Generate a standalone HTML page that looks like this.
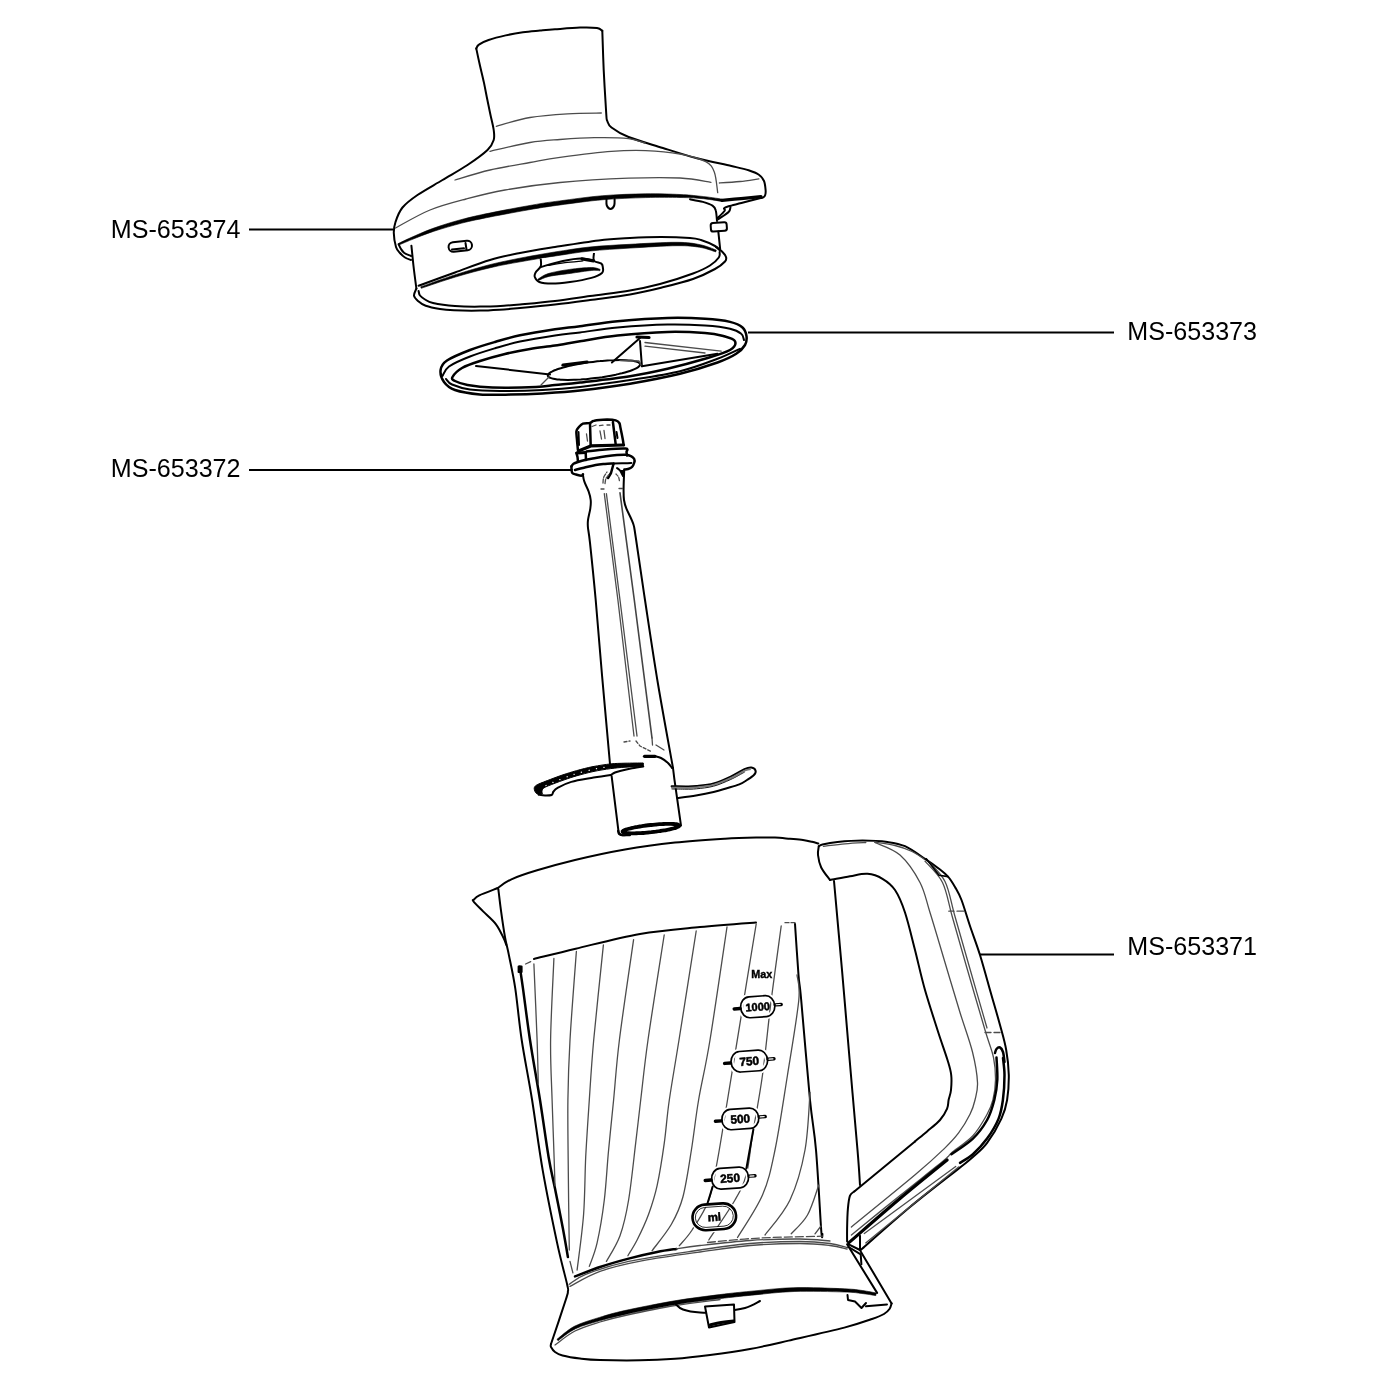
<!DOCTYPE html>
<html><head><meta charset="utf-8">
<style>
html,body{margin:0;padding:0;background:#fff;}
body{width:1400px;height:1400px;overflow:hidden;position:relative;font-family:"Liberation Sans",sans-serif;}
svg{position:absolute;left:0;top:0;will-change:transform;}
.k{fill:none;stroke:#000;stroke-width:2;stroke-linecap:round;stroke-linejoin:round;}
.b{fill:none;stroke:#000;stroke-width:3.2;stroke-linecap:round;stroke-linejoin:round;}
.m{fill:none;stroke:#000;stroke-width:2.5;stroke-linecap:round;stroke-linejoin:round;}
.t{fill:none;stroke:#4c4c4c;stroke-width:1.3;stroke-linecap:round;stroke-linejoin:round;}
.w{fill:#fff;stroke:#000;stroke-width:2;stroke-linejoin:round;}
.ld{stroke:#000;stroke-width:2;fill:none;}
text.lb{font-family:"Liberation Sans",sans-serif;font-size:25.1px;fill:#000;}
text.sm{font-family:"Liberation Sans",sans-serif;font-weight:bold;fill:#000;}
</style></head><body>
<svg width="1400" height="1400" viewBox="0 0 1400 1400">
<rect width="1400" height="1400" fill="#fff"/>
<g id="labels">
<text class="lb" x="110.8" y="237.5">MS-653374</text>
<text class="lb" x="110.8" y="476.8">MS-653372</text>
<text class="lb" x="1127.3" y="340">MS-653373</text>
<text class="lb" x="1127.3" y="955">MS-653371</text>
<path class="ld" d="M249 229.5H393"/>
<path class="ld" d="M249 470H571"/>
<path class="ld" d="M748 332.5H1114"/>
<path class="ld" d="M980 954.5H1114"/>
</g>
<g id="lid">
<path class="k" d="M476.3 48.6C476.7 47.9 476.8 46.0 478.9 44.6C480.9 43.2 484.1 41.5 488.6 40.0C493.1 38.5 500.0 36.7 505.7 35.4C511.4 34.1 517.2 33.1 522.9 32.3C528.6 31.5 534.6 31.1 540.0 30.6C545.4 30.1 548.3 29.8 555.0 29.3C561.7 28.8 573.0 27.8 580.0 27.6C587.0 27.4 593.3 27.5 597.0 28.0C600.7 28.5 601.4 30.3 602.3 30.8"/>
<path class="k" d="M602.3 30.8C602.5 37.3 603.1 56.3 603.7 70.0C604.4 83.7 605.6 104.5 606.2 113.0C606.8 121.5 606.4 118.6 607.3 121.0C608.2 123.4 608.0 124.8 611.5 127.5C615.0 130.2 620.0 133.6 628.6 137.0C637.2 140.4 651.5 144.4 662.9 148.0C674.3 151.6 685.6 155.3 697.0 158.3C708.4 161.3 722.8 164.0 731.4 166.0C740.0 168.0 744.0 168.8 748.6 170.3C753.2 171.8 756.3 173.0 758.9 174.8C761.5 176.6 762.9 178.5 764.0 181.0C765.1 183.5 765.4 187.7 765.6 190.0C765.8 192.3 765.6 193.8 765.2 195.0C764.9 196.2 764.2 196.8 763.5 197.3C762.8 197.8 761.2 197.9 760.7 198.0"/>
<path class="k" d="M476.3 48.6C476.9 51.5 478.7 60.0 480.0 65.7C481.3 71.4 482.8 77.2 484.0 82.9C485.2 88.6 486.3 94.7 487.4 100.0C488.5 105.3 489.4 110.0 490.5 115.0C491.6 120.0 493.2 125.8 493.7 130.0C494.2 134.2 494.7 136.7 493.7 140.0C492.7 143.3 491.9 145.8 487.5 150.0C483.1 154.2 475.0 160.0 467.5 165.0C460.0 170.0 450.8 175.0 442.5 180.0C434.2 185.0 424.2 190.4 417.5 195.0C410.8 199.6 406.2 203.0 402.5 207.5C398.8 212.0 396.9 217.8 395.5 222.0C394.1 226.2 393.7 228.8 393.8 233.0C393.9 237.2 395.0 243.7 396.0 247.0C397.0 250.3 398.5 251.2 400.0 253.0C401.5 254.8 403.2 256.3 405.0 257.5C406.8 258.7 410.0 259.6 411.0 260.0"/>
<path class="k" d="M398.6 244.3C399.0 245.1 400.1 247.6 401.0 249.0C401.9 250.4 402.6 251.8 404.3 253.0C406.0 254.2 409.9 255.5 411.0 256.0"/>
<path d="M398.9 245.0C401.1 244.1 406.1 241.9 411.8 239.6C417.6 237.3 425.0 234.2 433.4 231.4C441.7 228.7 452.4 225.6 461.9 223.1C471.4 220.7 478.5 219.3 490.4 216.9C502.3 214.6 521.6 211.0 533.2 209.0C544.9 207.0 548.6 206.5 560.3 204.9C571.9 203.4 588.8 200.9 603.1 199.7C617.3 198.5 632.9 198.0 645.7 197.6C658.6 197.2 670.9 197.4 680.0 197.5C689.0 197.6 694.5 198.0 699.9 198.4C705.3 198.8 708.7 199.4 712.4 199.9C716.0 200.4 720.3 201.2 721.9 201.5L722.3 199.1C720.7 198.9 716.3 198.2 712.6 197.7C709.0 197.2 705.5 196.7 700.1 196.2C694.7 195.6 689.1 194.9 680.0 194.5C671.0 194.1 658.5 193.6 645.7 193.8C632.8 194.0 617.1 194.5 602.7 195.7C588.4 196.9 571.4 199.3 559.7 200.9C548.0 202.4 544.2 202.9 532.6 205.0C520.9 207.0 501.5 210.6 489.6 213.1C477.7 215.5 470.5 217.1 460.9 219.7C451.4 222.2 440.7 225.6 432.4 228.6C424.1 231.6 416.7 235.1 411.0 237.6C405.3 240.1 400.4 242.6 398.3 243.6Z" fill="#000" stroke="#000" stroke-width="0.6" stroke-linejoin="round"/>
<path class="b" d="M722.1 200.3C725.2 200.0 734.5 199.2 741.0 198.6C747.5 198.0 757.7 197.0 761.0 196.7" style="stroke-width:3.3"/>
<path class="t" d="M496.3 126.3C501.9 124.8 518.1 119.6 530.0 117.5C541.9 115.4 555.6 114.5 567.5 113.8C579.4 113.0 595.7 113.1 601.3 113.0"/>
<path class="t" d="M490.0 151.3C496.7 149.8 518.3 144.5 530.0 142.5C541.7 140.5 549.3 140.3 560.0 139.5C570.7 138.7 582.9 137.8 594.3 137.7C605.7 137.5 620.1 137.7 628.6 138.6C637.1 139.5 642.3 142.3 645.0 143.0"/>
<path class="t" d="M455.0 180.0C460.8 178.3 477.5 172.9 490.0 170.0C502.5 167.1 518.3 164.6 530.0 162.5C541.7 160.4 546.4 159.2 560.0 157.4C573.6 155.6 597.1 152.5 611.4 151.4C625.7 150.3 634.3 150.2 645.7 150.6C657.1 151.0 670.0 152.2 680.0 154.0C690.0 155.8 700.0 158.7 705.7 161.7C711.4 164.7 712.3 166.8 714.3 172.0C716.3 177.2 717.1 189.2 717.7 192.6"/>
<path class="t" d="M395.5 228.0C401.2 225.0 418.2 214.8 430.0 210.0C441.8 205.2 453.5 202.3 466.0 199.0C478.5 195.7 489.3 192.8 505.0 190.0C520.7 187.2 539.4 184.5 560.0 182.5C580.6 180.5 608.6 178.9 628.6 178.2C648.6 177.4 666.3 177.3 680.0 178.0C693.7 178.7 705.8 181.6 710.9 182.3"/>
<path class="t" d="M719.4 183.0C722.8 182.8 733.4 182.2 740.0 181.5C746.6 180.8 755.8 179.3 758.9 178.9"/>
<path class="k" d="M411.4 245.7C411.8 249.1 412.7 258.9 413.5 266.0C414.3 273.1 415.9 284.8 416.4 288.6"/>
<path class="k" d="M690.0 199.3C692.1 199.7 699.1 200.8 702.9 201.9C706.6 203.0 710.4 204.3 712.5 205.7C714.6 207.1 715.0 207.6 715.7 210.2C716.5 212.8 716.8 219.2 717.0 221.0"/>
<path class="k" d="M718.3 231.4L720.2 249.4"/>
<path class="k" d="M418.6 285.7C424.7 283.5 443.1 276.8 455.0 272.5C466.9 268.2 479.2 263.2 490.0 260.0C500.8 256.8 509.2 255.2 520.0 253.0C530.8 250.8 541.9 249.1 555.0 247.0C568.1 244.9 586.1 241.9 598.6 240.4C611.1 238.9 619.6 238.6 630.0 238.0C640.4 237.4 651.0 237.0 661.0 237.0C671.0 237.0 683.3 237.5 690.0 238.0C696.7 238.5 696.8 238.7 701.0 240.0C705.2 241.3 711.9 244.3 715.0 246.0C718.1 247.7 718.8 249.3 719.6 250.0"/>
<path d="M421.3 288.3C426.9 286.4 443.8 280.5 455.3 277.1C466.8 273.6 479.5 270.2 490.4 267.7C501.2 265.1 509.5 263.7 520.3 261.8C531.2 259.8 543.7 257.8 555.3 256.0C567.0 254.2 577.7 252.3 590.2 251.0C602.7 249.7 615.6 249.0 630.1 248.1C644.6 247.2 665.4 245.8 677.0 245.7C688.6 245.6 693.3 246.3 699.8 247.3C706.2 248.3 713.1 251.1 715.7 251.9L716.3 250.1C713.6 249.2 706.8 246.0 700.2 244.7C693.7 243.4 688.7 242.4 677.0 242.3C665.3 242.2 644.4 243.5 629.9 244.3C615.4 245.1 602.3 245.7 589.8 247.0C577.3 248.3 566.4 250.2 554.7 252.0C543.0 253.9 530.5 256.1 519.7 258.2C508.8 260.4 500.5 262.0 489.6 264.7C478.8 267.5 466.2 271.3 454.7 274.9C443.2 278.6 426.4 284.8 420.7 286.7Z" fill="#000" stroke="#000" stroke-width="0.6" stroke-linejoin="round"/>
<path class="k" d="M416.4 288.6C416.0 289.8 413.7 293.6 414.0 295.7C414.3 297.8 416.1 299.3 418.0 301.0C419.9 302.7 422.0 304.4 425.7 305.7C429.4 307.0 435.3 308.2 440.0 309.0C444.7 309.8 447.3 310.0 454.0 310.3C460.7 310.6 471.7 310.8 480.0 310.6C488.3 310.5 497.3 309.8 504.0 309.4C510.7 309.0 511.5 308.8 520.0 308.0C528.5 307.2 543.3 305.8 555.0 304.5C566.7 303.2 577.5 301.7 590.0 300.0C602.5 298.3 618.3 296.5 630.0 294.5C641.7 292.5 649.5 290.6 660.0 288.0C670.5 285.4 683.8 282.2 693.0 279.0C702.2 275.8 709.7 271.9 715.0 269.0C720.3 266.1 723.2 263.5 725.0 261.5C726.8 259.5 726.5 258.7 726.0 257.0C725.5 255.3 723.7 253.2 722.0 251.5C720.3 249.8 717.0 247.8 716.0 247.0"/>
<path class="k" d="M418.6 291.0C418.8 291.8 418.9 294.1 420.0 295.5C421.1 296.9 422.8 298.2 425.0 299.5C427.2 300.8 428.0 301.9 433.0 303.0C438.0 304.1 447.2 305.4 455.0 306.0C462.8 306.6 471.8 306.7 480.0 306.6C488.2 306.6 497.3 306.1 504.0 305.7C510.7 305.3 511.5 305.3 520.0 304.5C528.5 303.7 543.3 302.4 555.0 301.0C566.7 299.6 577.5 297.8 590.0 296.0C602.5 294.2 618.3 292.5 630.0 290.5C641.7 288.5 649.5 286.8 660.0 284.0C670.5 281.2 684.7 276.6 693.0 273.5C701.3 270.4 705.7 268.2 710.0 265.5C714.3 262.8 717.2 259.8 718.8 257.5C720.4 255.2 719.5 252.9 719.6 252.0"/>
<rect class="k" x="448.5" y="241.5" width="23.5" height="9.5" rx="4.7" transform="rotate(-6 460 246)"/>
<path class="k" d="M452.0 249.6L464.0 248.3"/>
<path class="k" d="M465.5 243.0L466.5 249.5"/>
<path class="w" d="M540.7 258.6C540.7 259.9 541.6 264.1 540.7 266.4C539.9 268.7 536.6 270.7 535.6 272.5C534.6 274.3 534.2 275.4 534.8 277.0C535.4 278.6 536.4 280.9 539.3 282.0C542.2 283.1 546.9 283.6 552.0 283.6C557.1 283.6 563.4 282.9 570.0 282.0C576.6 281.1 586.1 279.4 591.4 277.9C596.7 276.4 600.1 274.6 602.0 272.9C603.9 271.2 603.0 269.4 602.9 267.9C602.8 266.3 602.9 264.8 601.4 263.6C599.9 262.4 595.2 262.5 594.0 260.7C592.8 258.9 594.0 254.2 594.0 252.9"/>
<path class="k" d="M540.7 267.0C544.4 266.0 556.2 262.3 562.9 260.9C569.6 259.5 575.5 258.4 580.7 258.4C585.9 258.4 591.8 260.3 594.0 260.7"/>
<path class="k" d="M548.6 265.4C551.3 264.9 559.3 263.4 565.0 262.6C570.7 261.9 579.9 261.2 582.9 260.9" style="stroke-width:1.3"/>
<path d="M538.2 280.6C540.0 279.9 543.6 277.7 549.0 276.4C554.3 275.2 563.2 274.4 570.3 273.4C577.4 272.4 586.5 270.9 591.5 270.5C596.4 270.1 598.5 270.7 599.9 270.7L600.1 269.3C598.6 269.0 596.4 267.5 591.3 267.5C586.3 267.5 576.9 268.4 569.7 269.4C562.5 270.4 553.6 271.9 548.2 273.6C542.9 275.2 539.4 278.4 537.6 279.4Z" fill="#000" stroke="#000" stroke-width="0.6" stroke-linejoin="round"/>
<path class="b" d="M582.0 258.9L593.5 260.8"/>
<path class="k" d="M606.5 199.5C606.5 200.5 606.1 203.9 606.8 205.5C607.5 207.1 609.3 208.9 610.5 208.9C611.7 208.9 613.5 207.2 614.2 205.5C614.9 203.8 614.5 200.1 614.6 199.0"/>
<rect class="k" x="710.8" y="222.6" width="16" height="8.6" rx="2.4" transform="rotate(-4 719 227)"/>
<path class="k" d="M760.7 198.0C757.5 198.8 746.8 201.6 741.4 203.0C736.0 204.4 731.5 205.4 728.6 206.3C725.7 207.2 724.6 207.6 724.0 208.3C723.4 209.1 725.8 209.2 724.7 210.8C723.6 212.4 718.8 216.8 717.6 218.0"/>
<path class="k" d="M730.5 207.0C730.2 207.8 730.6 210.0 728.6 212.0C726.6 214.0 720.0 218.0 718.3 219.2"/>
</g>
<g id="disc">
<path class="m" d="M440.6 370.0C441.1 366.4 442.1 363.8 447.0 360.5C451.9 357.2 462.0 353.1 470.0 350.0C478.0 346.9 486.7 344.4 495.0 342.0C503.3 339.6 510.0 337.4 520.0 335.3C530.0 333.2 545.0 330.8 555.0 329.3C565.0 327.8 569.6 327.6 580.0 326.2C590.4 324.9 602.9 322.6 617.5 321.2C632.1 319.9 652.9 318.4 667.5 318.0C682.1 317.6 694.6 318.1 705.0 318.8C715.4 319.4 723.8 320.4 730.0 321.9C736.2 323.4 739.8 325.1 742.5 327.5C745.2 329.9 746.1 333.3 746.5 336.2C746.9 339.2 746.7 342.1 745.0 345.0C743.3 347.9 740.8 350.8 736.2 353.8C731.7 356.7 726.9 359.2 717.5 362.5C708.1 365.8 694.6 370.2 680.0 373.8C665.4 377.3 646.7 380.9 630.0 383.8C613.3 386.6 594.6 389.0 580.0 390.6C565.4 392.2 554.2 392.8 542.5 393.5C530.8 394.2 520.4 394.5 510.0 394.6C499.6 394.8 489.2 395.2 480.0 394.4C470.8 393.6 461.0 392.1 455.0 390.0C449.0 387.9 446.4 385.3 444.0 382.0C441.6 378.7 440.1 373.6 440.6 370.0Z"/>
<path class="k" d="M442.5 376.0C443.6 374.4 444.4 369.8 449.0 366.5C453.6 363.2 462.3 359.5 470.0 356.5C477.7 353.5 486.7 350.8 495.0 348.3C503.3 345.8 510.0 343.6 520.0 341.5C530.0 339.4 545.0 337.0 555.0 335.5C565.0 334.0 569.6 333.7 580.0 332.4C590.4 331.1 602.9 328.9 617.5 327.6C632.1 326.3 652.9 324.9 667.5 324.6C682.1 324.3 694.6 324.9 705.0 325.6C715.4 326.3 724.0 327.4 730.0 328.8C736.0 330.1 738.9 331.9 741.2 333.8C743.6 335.6 743.5 339.0 744.0 340.0"/>
<path class="m" d="M452.5 377.0C453.7 374.8 457.4 370.7 462.0 368.0C466.6 365.3 472.8 363.3 480.0 361.0C487.2 358.7 496.7 356.0 505.0 354.0C513.3 352.0 521.7 350.4 530.0 349.0C538.3 347.6 546.7 346.8 555.0 345.5C563.3 344.2 569.6 342.9 580.0 341.2C590.4 339.6 602.9 337.2 617.5 335.6C632.1 334.0 652.9 332.3 667.5 331.9C682.1 331.5 695.6 332.3 705.0 333.0C714.4 333.7 718.8 334.9 723.8 336.2C728.8 337.6 734.0 339.0 735.0 341.2C736.0 343.5 735.0 347.1 730.0 350.0C725.0 352.9 715.4 355.6 705.0 358.8C694.6 361.9 680.0 365.8 667.5 368.8C655.0 371.7 644.6 374.0 630.0 376.2C615.4 378.5 592.5 381.0 580.0 382.5C567.5 384.0 562.3 384.2 555.0 385.0C547.7 385.8 546.4 386.6 536.0 387.0C525.6 387.4 503.9 387.8 492.5 387.5C481.1 387.2 473.8 386.1 467.5 385.0C461.2 383.9 457.5 382.3 455.0 381.0C452.5 379.7 451.3 379.2 452.5 377.0Z"/>
<path class="k" d="M740.0 348.8C736.2 350.4 727.5 355.0 717.5 358.8C707.5 362.5 694.6 367.7 680.0 371.2C665.4 374.8 646.7 377.4 630.0 380.0C613.3 382.6 594.6 385.2 580.0 386.9C565.4 388.6 555.8 389.3 542.5 390.0C529.2 390.7 512.1 391.1 500.0 391.0C487.9 390.9 478.0 390.6 470.0 389.5C462.0 388.4 456.0 386.2 452.0 384.5C448.0 382.8 447.0 379.9 446.0 379.0"/>
<path class="k" d="M476.0 366.0L550.0 374.4"/>
<path class="k" d="M640.0 338.0L611.9 362.5"/>
<path class="k" d="M640.0 341.0L641.9 366.2"/>
<path class="t" d="M645.0 342.5L721.2 351.2"/>
<path class="t" d="M645.0 346.2L705.0 353.0"/>
<path class="k" d="M641.9 366.2L717.5 353.8"/>
<path class="b" d="M637.0 337.0L649.0 337.5"/>
<path class="k" d="M640.2 364.3C640.1 364.6 640.1 365.2 639.7 365.7C639.4 366.1 638.9 366.6 638.2 367.1C637.5 367.6 636.6 368.1 635.6 368.6C634.5 369.2 633.3 369.7 631.9 370.2C630.6 370.7 629.0 371.2 627.3 371.7C625.7 372.3 623.9 372.8 621.9 373.3C620.0 373.7 618.0 374.2 615.8 374.7C613.7 375.1 611.5 375.6 609.2 376.0C606.9 376.4 604.6 376.8 602.2 377.2C599.8 377.5 597.4 377.8 595.0 378.1C592.6 378.4 590.2 378.7 587.8 378.9C585.4 379.2 583.0 379.3 580.7 379.5C578.4 379.6 576.1 379.8 573.9 379.8C571.8 379.9 569.7 379.9 567.7 379.9C565.7 379.9 563.8 379.9 562.1 379.8C560.3 379.7 558.7 379.5 557.2 379.4C555.8 379.2 554.5 379.0 553.3 378.7C552.2 378.5 551.2 378.2 550.4 377.9C549.6 377.6 549.0 377.2 548.6 376.9C548.1 376.5 547.9 376.1 547.8 375.7C547.8 375.2 547.9 374.8 548.3 374.3C548.6 373.9 549.1 373.4 549.8 372.9C550.5 372.4 551.4 371.9 552.4 371.4C553.5 370.8 554.7 370.3 556.1 369.8C557.4 369.3 559.0 368.8 560.7 368.3C562.3 367.7 564.1 367.2 566.1 366.7C568.0 366.3 570.0 365.8 572.2 365.3C574.3 364.9 576.5 364.4 578.8 364.0C581.1 363.6 583.4 363.2 585.8 362.8C588.2 362.5 590.6 362.2 593.0 361.9C595.4 361.6 597.8 361.3 600.2 361.1C602.6 360.8 605.0 360.7 607.3 360.5C609.6 360.4 611.9 360.2 614.1 360.2C616.2 360.1 618.3 360.1 620.3 360.1C622.3 360.1 624.2 360.1 625.9 360.2C627.7 360.3 629.3 360.5 630.8 360.6C632.2 360.8 633.5 361.0 634.7 361.3C635.8 361.5 636.8 361.8 637.6 362.1C638.4 362.4 639.0 362.8 639.4 363.1C639.9 363.5 640.0 364.1 640.2 364.3C640.3 364.5 640.2 364.1 640.2 364.3Z"/>
<path class="b" d="M563.0 365.0L587.0 362.0"/>
<path class="t" d="M620.0 360.5L639.0 361.0L641.0 365.0"/>
<path class="t" d="M541.0 385.0L549.0 377.0"/>
</g>
<g id="shaft">
<path class="m" d="M577.9 450.0C577.8 448.3 577.2 443.1 577.0 440.0C576.8 436.9 576.1 433.6 576.4 431.4C576.7 429.2 577.9 428.3 579.0 427.0C580.1 425.7 581.1 424.3 582.9 423.6C584.7 422.9 588.1 423.4 590.0 422.9C591.9 422.4 591.4 421.2 594.3 420.7C597.1 420.1 603.5 419.7 607.1 419.6C610.7 419.6 613.7 419.8 615.7 420.4C617.7 421.0 618.5 421.7 619.3 423.0C620.1 424.3 619.9 425.2 620.5 428.0C621.1 430.8 622.4 437.2 622.9 440.0C623.4 442.8 623.5 444.2 623.6 445.0"/>
<path class="m" d="M590.0 423.6L590.7 445.7"/>
<path class="m" d="M612.9 422.0L615.7 444.3"/>
<path class="b" d="M578.5 451.0L590.7 445.9L623.6 445.0"/>
<path class="t" d="M600.0 431.0L601.5 439.0"/>
<path class="t" d="M604.0 430.5L605.0 438.5"/>
<path class="t" d="M586.5 434.0L587.5 441.0"/>
<path class="t" d="M592.0 426.5L596.0 425.0"/>
<path class="t" d="M599.5 425.6L603.0 425.2"/>
<path class="t" d="M607.0 425.0L610.0 425.0"/>
<path class="k" d="M616.5 432.0L617.5 438.0"/>
<path class="k" d="M578.5 432.0L579.0 445.0"/>
<path class="m" d="M576.4 452.9C576.6 453.6 577.2 455.6 577.5 457.0C577.8 458.4 577.8 460.8 577.9 461.5"/>
<path class="m" d="M585.7 452.9L586.0 460.0"/>
<path class="b" d="M577.0 453.0L585.5 452.5"/>
<path class="m" d="M586.4 451.4C589.5 451.1 598.5 450.0 605.0 449.5C611.5 449.0 622.1 448.2 625.7 448.6C629.3 449.0 626.3 450.9 626.5 452.0C626.7 453.1 626.9 454.9 627.0 455.5"/>
<path class="m" d="M571.4 466.4C571.8 466.0 572.4 464.5 573.5 463.8C574.6 463.1 575.8 462.7 577.9 462.0C580.0 461.3 583.0 460.4 586.0 459.7C589.0 459.0 592.4 458.5 595.7 457.9C599.0 457.3 602.5 456.7 606.0 456.2C609.5 455.7 613.7 455.2 617.0 455.0C620.3 454.8 623.6 454.6 626.0 454.8C628.4 455.0 630.0 455.7 631.4 456.4C632.8 457.1 633.7 458.0 634.2 459.0C634.7 460.0 634.7 461.2 634.3 462.5C633.9 463.8 633.0 465.9 632.0 467.0C631.0 468.1 629.3 468.6 628.0 469.0C626.7 469.4 624.9 469.4 624.3 469.5"/>
<path class="m" d="M571.4 466.4C571.4 467.0 571.5 468.9 571.6 470.0C571.8 471.1 571.6 472.2 572.3 473.0C573.0 473.8 574.5 474.1 576.0 474.5C577.5 474.9 580.2 475.7 581.4 475.7C582.6 475.7 582.7 474.5 583.0 474.3"/>
<path class="m" d="M575.0 470.0C576.5 469.6 580.5 468.5 584.0 467.7C587.5 466.9 592.2 465.6 595.7 465.0C599.2 464.4 602.0 464.2 605.0 463.9C608.0 463.6 612.2 463.5 613.6 463.4"/>
<path class="k" d="M613.6 463.4C615.0 463.4 619.0 463.4 622.0 463.3C625.0 463.2 629.8 463.0 631.4 462.9"/>
<path class="m" d="M613.5 464.0L611.0 473.0L608.0 478.0"/>
<path class="k" d="M617.0 468.0C617.5 468.4 619.0 469.2 620.0 470.5C621.0 471.8 622.5 475.1 623.0 476.0"/>
<path d="M620 470L624.3 470L624 478Z" fill="#000"/>
<path class="k" d="M582.9 474.5C583.1 475.6 583.3 478.6 584.3 481.4C585.2 484.2 587.5 488.3 588.6 491.4C589.7 494.5 590.4 497.1 590.7 500.0C591.0 502.9 590.8 505.3 590.3 508.6C589.8 511.9 588.4 516.9 588.0 520.0C587.6 523.1 587.6 523.2 587.9 527.0C588.2 530.8 588.7 530.7 590.0 542.9C591.3 555.1 593.7 578.0 595.7 600.0C597.7 622.0 599.6 647.7 602.0 675.0C604.4 702.3 608.7 749.2 610.0 764.0"/>
<path class="k" d="M624.2 470.7C624.1 473.7 623.6 483.7 623.6 488.6C623.6 493.5 623.5 496.7 624.0 500.0C624.5 503.3 624.9 504.8 626.4 508.6C627.9 512.4 631.3 518.2 632.9 522.9C634.5 527.6 633.7 524.1 635.7 537.0C637.7 549.9 641.3 575.5 645.0 600.0C648.7 624.5 653.3 656.0 658.0 684.0C662.7 712.0 670.5 754.0 673.0 768.0"/>
<path class="k" d="M611.6 775.9L618.4 830.7"/>
<path class="k" d="M618.0 831.0C618.2 831.5 618.3 833.3 619.0 834.0C619.7 834.7 620.5 835.1 622.0 835.3C623.5 835.5 627.0 835.0 628.0 835.0"/>
<path class="k" d="M673.0 768.0L674.4 779.3L681.0 825.6"/>
<path class="t" d="M604.3 493.6L617.9 600.0L634.0 736.0"/>
<path class="t" d="M606.4 493.6L620.0 600.0L637.0 736.0"/>
<path class="t" d="M620.0 492.9L634.3 600.0L652.0 738.0" style="stroke-width:1.6;stroke:#444"/>
<path class="t" d="M603.0 483.0C603.1 482.0 603.1 478.8 603.8 477.0C604.5 475.2 606.5 472.8 607.0 472.0" stroke-dasharray="4 1.5"/>
<path class="t" d="M605.0 483.5C605.2 482.7 605.3 480.0 606.0 478.5C606.7 477.0 608.5 475.2 609.0 474.5" stroke-dasharray="4 1.5"/>
<path class="t" d="M616.0 474.0C616.4 474.5 617.9 475.8 618.5 477.0C619.1 478.2 619.3 480.3 619.5 481.0" stroke-dasharray="3 1.5"/>
<path class="t" d="M601.0 489.0L604.0 489.0"/>
<path class="t" d="M619.0 488.5L622.5 488.5"/>
<path class="b" d="M644.5 756.3L655.0 756.3"/>
<path class="k" d="M655.0 756.3C656.0 756.6 658.8 756.9 661.0 758.0C663.2 759.1 666.2 761.3 668.0 763.0C669.8 764.7 671.3 767.2 672.0 768.0"/>
<path class="t" d="M624.0 742.0L630.0 741.0" stroke-dasharray="3 2"/>
<path class="t" d="M636.0 741.0L640.0 746.0L646.0 749.0L652.0 752.0" stroke-dasharray="3 2"/>
<path class="t" d="M656.0 745.0L664.0 750.0"/>
<path class="t" d="M652.0 738.0L652.5 745.0"/>
<path class="k" d="M618.4 830.7C618.6 831.2 618.8 832.8 619.5 833.5C620.2 834.2 621.0 834.9 622.7 835.2C624.5 835.5 628.8 835.3 630.0 835.3"/>
<path class="b" d="M679.4 825.5C679.4 825.6 679.4 825.9 679.1 826.1C678.9 826.3 678.6 826.5 678.2 826.8C677.7 827.0 677.2 827.2 676.5 827.5C675.9 827.7 675.1 828.0 674.2 828.2C673.4 828.5 672.4 828.7 671.4 828.9C670.3 829.2 669.2 829.4 668.0 829.7C666.8 829.9 665.6 830.2 664.3 830.4C662.9 830.6 661.6 830.8 660.2 831.0C658.8 831.3 657.3 831.5 655.8 831.7C654.4 831.8 652.9 832.0 651.4 832.2C649.9 832.3 648.4 832.5 646.9 832.6C645.5 832.7 644.0 832.9 642.6 833.0C641.2 833.1 639.8 833.1 638.4 833.2C637.1 833.2 635.8 833.3 634.6 833.3C633.4 833.3 632.2 833.3 631.2 833.3C630.1 833.3 629.1 833.3 628.2 833.2C627.3 833.1 626.5 833.1 625.8 833.0C625.2 832.9 624.6 832.8 624.1 832.6C623.6 832.5 623.2 832.4 623.0 832.2C622.7 832.1 622.6 831.9 622.6 831.7C622.5 831.5 622.6 831.3 622.9 831.1C623.1 830.9 623.4 830.7 623.8 830.4C624.3 830.2 624.8 830.0 625.5 829.7C626.1 829.5 626.9 829.2 627.8 829.0C628.6 828.7 629.6 828.5 630.6 828.3C631.7 828.0 632.8 827.8 634.0 827.5C635.2 827.3 636.4 827.0 637.7 826.8C639.1 826.6 640.4 826.4 641.8 826.2C643.2 825.9 644.7 825.7 646.2 825.5C647.6 825.4 649.1 825.2 650.6 825.0C652.1 824.9 653.6 824.7 655.1 824.6C656.5 824.5 658.0 824.3 659.4 824.2C660.8 824.1 662.2 824.1 663.6 824.0C664.9 824.0 666.2 823.9 667.4 823.9C668.6 823.9 669.8 823.9 670.8 823.9C671.9 823.9 672.9 823.9 673.8 824.0C674.7 824.1 675.5 824.1 676.2 824.2C676.8 824.3 677.4 824.4 677.9 824.6C678.4 824.7 678.8 824.8 679.0 825.0C679.3 825.1 679.4 825.4 679.4 825.5C679.5 825.6 679.5 825.4 679.4 825.5Z" style="stroke-width:3.8"/>
<path d="M643.3 763.0C640.2 763.0 630.4 763.1 625.0 763.2C619.6 763.4 616.0 763.3 610.7 763.9C605.4 764.5 598.7 765.5 593.0 766.6C587.3 767.7 581.4 769.3 576.4 770.7C571.4 772.1 567.3 773.4 563.0 774.8C558.7 776.2 554.9 777.7 550.7 779.3C546.5 780.9 540.6 783.1 537.9 784.4C535.2 785.7 535.2 786.1 534.6 787.0C534.0 787.9 534.2 788.8 534.4 789.8C534.6 790.8 535.1 792.0 535.8 792.8C536.5 793.6 538.2 794.4 538.7 794.7 L542.5 793.5C542.4 793.2 541.8 792.4 542.0 791.5C542.2 790.6 541.9 789.2 543.9 787.9C545.9 786.6 550.5 785.0 554.0 783.6C557.5 782.2 561.3 780.9 565.0 779.6C568.7 778.3 571.7 777.2 576.4 775.9C581.1 774.6 587.3 772.8 593.0 771.6C598.7 770.4 605.4 769.3 610.7 768.6C616.0 767.9 619.6 767.6 625.0 767.2C630.4 766.8 640.2 766.5 643.3 766.4 Z" fill="#000" stroke="#000" stroke-width="1" stroke-linejoin="round"/>
<path class="k" d="M538.7 794.7C539.8 794.9 542.9 795.6 545.0 795.6C547.1 795.6 550.2 795.7 551.6 795.0C553.0 794.3 552.5 792.7 553.5 791.5C554.5 790.3 554.6 789.5 557.6 787.9C560.6 786.3 565.3 783.6 571.3 781.9C577.3 780.2 587.0 778.8 593.6 777.6C600.2 776.5 607.9 775.4 610.7 775.0"/>
<path class="k" d="M610.7 775.0C611.4 774.6 613.3 773.2 615.0 772.5C616.7 771.8 618.2 771.4 621.0 770.7C623.8 770.0 628.3 769.0 632.0 768.3C635.7 767.6 641.4 766.7 643.3 766.4"/>
<path d="M546.0 785.5C547.3 784.9 550.8 783.3 554.0 782.0C557.2 780.7 561.3 779.0 565.0 777.6C568.7 776.2 571.7 775.0 576.4 773.6C581.1 772.2 588.2 770.5 593.0 769.4C597.8 768.3 603.0 767.6 605.0 767.2" fill="none" stroke="#fff" stroke-width="1.3" stroke-linecap="round" stroke-dasharray="0.1 7.5"/>
<path class="k" d="M671.6 786.2C674.0 786.2 681.9 786.4 686.0 786.4C690.1 786.4 691.8 786.5 696.4 786.0C701.0 785.5 707.9 785.0 713.6 783.4C719.3 781.8 725.6 779.0 730.7 776.6C735.8 774.2 741.0 770.7 744.4 769.2C747.8 767.7 749.4 767.4 751.3 767.6C753.2 767.9 755.2 769.5 755.6 770.7C756.0 771.9 755.3 773.5 753.9 775.0C752.5 776.5 749.4 778.4 747.0 780.0C744.6 781.6 742.8 783.0 739.3 784.4C735.8 785.8 730.3 787.2 726.0 788.5C721.7 789.8 718.6 790.8 713.6 792.0C708.6 793.2 702.0 794.5 696.0 795.5C690.0 796.5 680.7 797.6 677.6 798.0"/>
<path class="t" d="M671.8 787.6C674.2 787.6 681.9 787.8 686.0 787.8C690.1 787.8 691.8 787.9 696.4 787.4C701.0 786.9 707.9 786.3 713.6 784.8C719.3 783.2 725.6 780.5 730.7 778.1C735.8 775.8 741.2 772.2 744.4 770.7C747.6 769.2 749.1 769.5 750.0 769.3" style="stroke-width:1.8;stroke:#777"/>
<path class="k" d="M672.0 789.0C674.3 789.0 681.9 789.2 686.0 789.2C690.1 789.2 691.8 789.3 696.4 788.8C701.0 788.3 707.9 787.8 713.6 786.2C719.3 784.7 725.6 781.8 730.7 779.5C735.8 777.2 742.1 773.4 744.4 772.2" style="stroke-width:0.9"/>
</g>
<g id="jug">
<path class="k" d="M497.3 888.3C499.6 886.8 504.8 882.3 511.4 879.3C518.0 876.3 526.5 873.5 537.1 870.3C547.7 867.1 560.4 863.5 575.0 860.0C589.6 856.5 608.3 852.4 625.0 849.5C641.7 846.6 658.3 844.4 675.0 842.6C691.7 840.8 710.8 839.6 725.0 838.7C739.2 837.9 751.7 837.7 760.0 837.5C768.3 837.3 770.0 837.4 775.0 837.6C780.0 837.8 785.3 838.4 790.0 838.8C794.7 839.2 799.3 839.5 803.0 840.0C806.7 840.5 809.5 841.2 812.0 841.8C814.5 842.4 817.2 843.2 818.3 843.5"/>
<path class="k" d="M497.3 888.3C494.3 889.5 483.2 893.5 479.3 895.4C475.4 897.3 475.0 898.5 474.0 899.5C473.0 900.5 472.0 899.5 473.5 901.5C475.0 903.5 479.4 907.6 483.1 911.4C486.9 915.2 492.6 919.8 496.0 924.3C499.4 928.8 502.0 935.0 503.7 938.4C505.4 941.8 505.9 943.8 506.3 944.9"/>
<path class="k" d="M498.3 888.9C498.8 892.6 500.0 903.4 501.1 911.4C502.2 919.4 503.7 929.8 505.0 937.1C506.3 944.4 507.2 946.5 508.9 955.1C510.6 963.7 513.2 974.5 515.3 988.6C517.4 1002.8 518.9 1021.4 521.7 1040.0C524.5 1058.6 528.6 1078.1 532.1 1100.0C535.6 1121.9 538.7 1147.6 542.9 1171.4C547.1 1195.2 553.1 1224.1 557.1 1242.9C561.1 1261.7 565.3 1276.2 567.1 1284.3C568.9 1292.4 568.1 1288.8 567.9 1291.4C567.7 1294.0 568.5 1291.2 565.7 1300.0C562.9 1308.8 553.5 1336.7 551.0 1344.0"/>
<path class="m" d="M519.8 966.7C520.3 970.4 521.3 976.4 523.0 988.6C524.7 1000.8 527.2 1021.4 530.0 1040.0C532.8 1058.6 536.9 1080.5 540.0 1100.0C543.1 1119.5 546.1 1142.2 548.6 1157.0C551.1 1171.8 552.6 1176.7 555.0 1188.6C557.4 1200.5 560.8 1217.2 562.9 1228.6C565.0 1240.0 567.1 1252.3 567.9 1257.0"/>
<rect class="k" x="518.6" y="966.5" width="3" height="5.5"/>
<path class="t" d="M570.0 1261.4L572.9 1272.9"/>
<path class="k" d="M533.9 959.0C540.9 957.3 558.0 952.9 575.7 948.7C593.4 944.5 619.3 937.5 640.0 933.9C660.7 930.3 680.7 928.9 700.0 927.0C719.3 925.1 746.7 923.2 756.0 922.5"/>
<path class="t" d="M525.6 964.0L530.7 961.6"/>
<path class="t" d="M785.0 922.7L789.0 922.7"/>
<path class="t" d="M791.0 922.7L795.0 922.7"/>
<path class="k" d="M795.0 924.0C795.6 932.5 797.5 962.3 798.5 975.0C799.5 987.7 799.3 979.2 801.2 1000.0C803.2 1020.8 807.5 1075.0 810.0 1100.0C812.5 1125.0 814.1 1128.3 816.0 1150.0C817.9 1171.7 820.2 1216.0 821.2 1230.0C822.3 1244.0 822.3 1233.3 822.5 1234.0"/>
<path class="t" d="M533.9 964.0C534.4 976.7 536.4 1020.0 537.1 1040.0C537.8 1060.0 538.1 1076.7 538.3 1084.0"/>
<path class="t" d="M553.9 958.4C553.4 972.0 550.9 1016.4 550.6 1040.0C550.3 1063.6 551.6 1082.8 552.1 1100.0C552.6 1117.2 553.1 1128.6 553.6 1142.9C554.1 1157.2 554.8 1178.6 555.0 1185.7"/>
<path class="t" d="M576.4 951.3C575.3 966.1 571.4 1015.2 570.0 1040.0C568.6 1064.8 568.2 1078.1 567.9 1100.0C567.6 1121.9 568.1 1146.4 568.3 1171.4C568.5 1196.4 569.1 1236.9 569.3 1250.0"/>
<path class="t" d="M603.4 944.9C601.8 960.8 596.1 1014.1 593.7 1040.0C591.4 1065.8 590.6 1080.5 589.3 1100.0C588.0 1119.5 586.7 1138.0 585.7 1157.0C584.8 1176.0 585.0 1195.5 583.6 1214.3C582.2 1233.1 578.2 1260.7 577.1 1270.0"/>
<path class="t" d="M633.6 939.7C631.2 956.4 622.7 1013.3 619.4 1040.0C616.1 1066.7 615.4 1081.7 613.6 1100.0C611.8 1118.3 610.2 1133.3 608.6 1150.0C607.0 1166.7 606.2 1184.5 604.3 1200.0C602.4 1215.5 599.6 1231.8 597.1 1242.9C594.6 1254.0 590.6 1262.5 589.3 1266.4"/>
<path class="t" d="M664.2 935.0C661.5 952.5 651.9 1012.5 648.0 1040.0C644.1 1067.5 642.8 1082.8 640.7 1100.0C638.7 1117.2 637.7 1126.2 635.7 1142.9C633.7 1159.6 631.2 1184.5 628.6 1200.0C626.0 1215.5 623.7 1225.5 620.0 1235.7C616.3 1245.9 608.7 1257.1 606.4 1261.4"/>
<path class="t" d="M696.2 931.0C693.4 949.2 683.5 1011.8 679.0 1040.0C674.5 1068.2 671.8 1082.8 669.3 1100.0C666.8 1117.2 666.3 1128.6 664.3 1142.9C662.3 1157.2 659.7 1173.8 657.1 1185.7C654.5 1197.6 651.9 1205.2 648.6 1214.3C645.3 1223.3 640.6 1233.1 637.1 1240.0C633.6 1246.9 629.4 1253.1 627.9 1255.7"/>
<path class="t" d="M727.0 927.0C724.2 945.8 714.7 1011.2 710.0 1040.0C705.3 1068.8 701.7 1081.7 698.6 1100.0C695.5 1118.3 694.0 1133.8 691.4 1150.0C688.8 1166.2 686.2 1184.6 682.9 1197.0C679.6 1209.4 676.5 1215.3 671.4 1224.3C666.3 1233.2 655.3 1246.3 652.1 1250.7"/>
<path class="t" d="M756.2 924.0C754.2 936.7 748.5 970.7 743.8 1000.0C739.0 1029.3 731.9 1073.3 727.5 1100.0C723.1 1126.7 720.6 1143.3 717.5 1160.0C714.4 1176.7 713.0 1188.3 708.8 1200.0C704.5 1211.7 697.0 1222.4 692.1 1230.0C687.2 1237.6 681.4 1243.1 679.3 1245.7"/>
<path class="t" d="M781.2 926.0C779.6 938.3 774.4 975.2 771.2 1000.0C768.1 1024.8 765.6 1052.5 762.5 1075.0C759.4 1097.5 755.2 1118.3 752.5 1135.0C749.8 1151.7 749.2 1164.2 746.2 1175.0C743.3 1185.8 741.2 1189.2 735.0 1200.0C728.8 1210.8 713.1 1233.3 708.8 1240.0"/>
<path class="t" d="M797.0 975.0C797.3 979.2 800.3 983.3 798.8 1000.0C797.2 1016.7 791.5 1050.0 787.5 1075.0C783.5 1100.0 779.2 1130.0 775.0 1150.0C770.8 1170.0 768.8 1180.4 762.5 1195.0C756.2 1209.6 741.7 1230.4 737.5 1237.5"/>
<path class="t" d="M810.0 1092.5C809.2 1102.1 808.3 1132.1 805.0 1150.0C801.7 1167.9 796.7 1185.8 790.0 1200.0C783.3 1214.2 769.2 1229.2 765.0 1235.0"/>
<path class="t" d="M818.8 1185.0C816.9 1190.0 812.1 1206.9 807.5 1215.0C802.9 1223.1 794.0 1230.6 791.2 1233.8"/>
<path class="t" d="M821.0 1226.0L815.0 1233.8"/>
<path class="t" d="M707.5 1242.5C716.2 1241.8 740.8 1239.0 760.0 1238.0C779.2 1237.0 812.1 1236.5 822.5 1236.2" stroke-dasharray="8 3"/>
<path class="k" d="M834.0 881.0C835.3 895.8 839.5 941.8 842.0 970.0C844.5 998.2 846.2 1020.0 848.8 1050.0C851.3 1080.0 855.6 1127.5 857.5 1150.0C859.4 1172.5 859.6 1179.2 860.0 1185.0"/>
<path class="m" d="M575.0 1276.4C579.2 1274.8 591.1 1270.0 600.0 1267.0C608.9 1264.0 619.1 1261.1 628.6 1258.6C638.1 1256.1 649.1 1253.6 657.1 1252.0C665.1 1250.4 673.2 1249.4 676.4 1248.9"/>
<path class="t" d="M569.3 1284.3C572.0 1282.6 575.8 1278.1 585.7 1274.3C595.6 1270.5 609.6 1265.5 628.6 1261.4C647.6 1257.4 679.8 1253.0 700.0 1250.0C720.2 1247.0 733.3 1244.9 750.0 1243.5C766.7 1242.1 786.7 1241.5 800.0 1241.5C813.3 1241.5 822.1 1242.5 830.0 1243.5C837.9 1244.5 844.6 1246.8 847.5 1247.5"/>
<path class="t" d="M570.0 1286.4C575.0 1283.9 587.9 1275.7 600.0 1271.4C612.1 1267.1 626.2 1263.9 642.9 1260.7C659.6 1257.5 682.1 1254.5 700.0 1252.0C717.9 1249.5 733.3 1246.9 750.0 1245.5C766.7 1244.1 786.7 1243.5 800.0 1243.5C813.3 1243.5 822.2 1244.6 830.0 1245.5C837.8 1246.4 844.2 1248.4 847.0 1249.0"/>
<path class="t" d="M676.4 1248.9C680.3 1248.3 687.7 1246.9 700.0 1245.5C712.3 1244.1 733.3 1241.6 750.0 1240.5C766.7 1239.4 786.7 1238.9 800.0 1239.0C813.3 1239.1 825.0 1240.7 830.0 1241.0"/>
<path class="k" d="M551.0 1344.0C551.0 1344.5 550.3 1345.7 551.0 1347.0C551.7 1348.3 553.1 1350.6 555.0 1352.0C556.9 1353.4 558.3 1354.4 562.5 1355.5C566.7 1356.6 573.8 1357.8 580.0 1358.5C586.2 1359.2 590.0 1359.7 600.0 1360.0C610.0 1360.3 627.5 1360.5 640.0 1360.3C652.5 1360.1 663.3 1359.6 675.0 1358.8C686.7 1357.9 697.5 1356.6 710.0 1355.0C722.5 1353.4 736.9 1351.4 750.0 1349.0C763.1 1346.6 772.9 1344.2 788.6 1340.6C804.3 1337.0 830.4 1331.2 844.3 1327.6C858.2 1324.0 865.4 1321.3 872.0 1319.0C878.6 1316.7 881.1 1315.7 884.0 1314.0C886.9 1312.3 888.2 1310.8 889.5 1309.0C890.8 1307.2 891.2 1304.3 891.6 1303.4"/>
<path class="k" d="M891.6 1303.4L860.7 1251.4"/>
<path class="k" d="M847.1 1244.3L877.1 1292.9"/>
<path class="k" d="M848.6 1247.0L860.7 1254.3L861.4 1264.3"/>
<path d="M558.0 1340.7C560.9 1338.7 568.5 1332.0 575.6 1328.7C582.7 1325.3 592.2 1323.0 600.5 1320.6C608.8 1318.2 612.9 1317.0 625.4 1314.4C637.9 1311.7 659.5 1307.4 675.3 1304.8C691.1 1302.1 707.5 1300.2 720.2 1298.6C733.0 1297.0 739.3 1296.4 751.6 1295.2C763.9 1294.0 778.6 1292.0 794.1 1291.5C809.5 1291.0 833.0 1291.7 844.2 1292.0C855.5 1292.3 856.6 1292.9 861.8 1293.5C867.1 1294.1 873.5 1295.2 875.8 1295.6L876.2 1293.0C873.9 1292.6 867.5 1291.2 862.2 1290.5C856.9 1289.8 855.7 1289.3 844.4 1288.8C833.0 1288.3 809.5 1287.3 793.9 1287.7C778.4 1288.1 763.6 1290.1 751.2 1291.2C738.8 1292.4 732.5 1293.0 719.8 1294.6C707.0 1296.2 690.5 1298.2 674.7 1300.8C658.8 1303.5 637.1 1307.9 624.6 1310.6C612.1 1313.4 607.9 1314.8 599.5 1317.4C591.1 1320.0 581.5 1322.7 574.4 1326.3C567.3 1330.0 559.9 1337.1 557.0 1339.3Z" fill="#000" stroke="#000" stroke-width="0.6" stroke-linejoin="round"/>
<path class="t" d="M555.0 1345.0C558.3 1342.7 567.5 1334.8 575.0 1331.0C582.5 1327.2 591.7 1324.6 600.0 1322.0C608.3 1319.4 612.5 1318.2 625.0 1315.5C637.5 1312.8 659.2 1308.2 675.0 1305.5C690.8 1302.8 712.5 1300.5 720.0 1299.5"/>
<path class="k" d="M675.0 1303.5C676.3 1304.5 678.8 1308.0 683.0 1309.5C687.2 1311.0 693.8 1312.1 700.0 1312.5C706.2 1312.9 712.5 1312.8 720.0 1312.0C727.5 1311.2 738.3 1309.8 745.0 1308.0C751.7 1306.2 757.5 1302.2 760.0 1301.0"/>
<path class="w" d="M705 1306.5L734 1304.5L734.5 1322L709 1327.5Z"/>
<path class="b" d="M710.5 1324.8C712.2 1324.4 717.2 1323.1 721.0 1322.5C724.8 1321.9 731.4 1321.2 733.5 1321.0"/>
<path class="k" d="M847.5 1295.0L848.0 1300.0L855.0 1301.5L861.5 1308.0L866.0 1303.0"/>
<path class="k" d="M866.0 1306.3L887.0 1304.4"/>
</g>
<g id="handle">
<path class="k" d="M818.8 846.2C819.4 846.0 819.4 845.2 822.5 844.5C825.6 843.8 830.8 842.7 837.5 842.0C844.2 841.3 854.2 840.5 862.5 840.5C870.8 840.5 880.4 841.0 887.5 842.0C894.6 843.0 898.8 843.5 905.0 846.2C911.2 849.0 919.3 855.0 925.0 858.8C930.7 862.5 935.2 865.8 939.0 868.8C942.8 871.8 945.3 873.6 948.0 876.6C950.7 879.6 952.8 883.1 955.0 887.0C957.2 890.9 959.0 893.5 961.5 900.0C964.0 906.5 966.9 916.8 970.0 926.0C973.1 935.2 976.7 944.3 980.0 955.0C983.3 965.7 986.7 978.3 990.0 990.0C993.3 1001.7 997.3 1015.0 1000.0 1025.0C1002.7 1035.0 1004.8 1041.7 1006.2 1050.0C1007.7 1058.3 1008.6 1066.7 1008.8 1075.0C1008.9 1083.3 1008.3 1092.7 1007.1 1100.0C1005.9 1107.3 1004.7 1111.4 1001.4 1118.6C998.1 1125.8 991.9 1136.5 987.1 1142.9C982.4 1149.3 977.6 1152.7 972.9 1157.0C968.1 1161.3 969.1 1160.3 958.6 1168.6C948.1 1176.9 926.3 1193.4 910.0 1207.0C893.7 1220.6 868.9 1242.8 860.7 1250.0"/>
<path class="k" d="M818.8 846.2C818.6 847.7 817.6 851.5 818.0 855.0C818.4 858.5 819.2 863.3 821.2 867.5C823.2 871.7 828.5 877.9 830.0 880.0"/>
<path class="k" d="M830.0 880.0C833.3 879.4 843.8 877.3 850.0 876.2C856.2 875.2 862.1 873.3 867.5 873.8C872.9 874.2 877.9 876.0 882.5 878.8C887.1 881.5 891.2 884.4 895.0 890.0C898.8 895.6 901.7 902.5 905.0 912.5C908.3 922.5 911.7 937.1 915.0 950.0C918.3 962.9 921.2 976.7 925.0 990.0C928.8 1003.3 933.8 1018.3 937.5 1030.0C941.2 1041.7 945.2 1052.5 947.5 1060.0C949.8 1067.5 950.7 1070.0 951.2 1075.0C951.8 1080.0 951.4 1085.8 951.0 1090.0C950.6 1094.2 949.2 1096.9 948.6 1100.0C948.0 1103.1 948.5 1105.3 947.1 1108.6C945.7 1111.9 943.3 1116.2 940.0 1120.0C936.7 1123.8 931.3 1127.8 927.1 1131.4C922.9 1135.0 917.0 1139.7 915.0 1141.4"/>
<path class="k" d="M915.0 1141.4L854.3 1191.4"/>
<path class="k" d="M854.3 1191.4C853.6 1192.1 851.1 1192.8 850.0 1195.7C848.9 1198.6 848.4 1203.1 847.9 1208.6C847.4 1214.1 847.2 1223.1 847.1 1228.6C847.0 1234.1 847.1 1239.3 847.1 1241.4"/>
<path class="t" d="M875.0 842.5C879.2 844.6 892.5 848.3 900.0 855.0C907.5 861.7 915.0 872.9 920.0 882.5C925.0 892.1 925.8 899.2 930.0 912.5C934.2 925.8 940.0 945.8 945.0 962.5C950.0 979.2 955.4 997.6 960.0 1012.5C964.6 1027.4 969.6 1040.3 972.5 1052.0C975.4 1063.7 977.1 1074.5 977.5 1082.5C977.9 1090.5 976.2 1094.7 975.0 1100.0C973.8 1105.3 972.7 1108.8 970.0 1114.3C967.3 1119.8 962.9 1127.2 958.6 1132.9C954.3 1138.6 951.4 1141.7 944.3 1148.6C937.1 1155.5 931.2 1161.2 915.7 1174.3C900.2 1187.4 862.1 1218.2 851.4 1227.0"/>
<path class="t" d="M925.0 861.2C927.9 864.8 937.9 873.1 942.5 882.5C947.1 891.9 948.3 902.9 952.5 917.5C956.7 932.1 962.1 951.2 967.5 970.0C972.9 988.8 980.7 1015.4 985.0 1030.0C989.3 1044.6 991.8 1049.2 993.5 1057.5C995.2 1065.8 995.6 1072.9 995.5 1080.0C995.4 1087.1 994.3 1094.3 992.9 1100.0C991.5 1105.7 990.4 1108.3 987.1 1114.3C983.8 1120.2 978.9 1129.3 972.9 1135.7C966.9 1142.1 956.2 1148.9 951.4 1152.9C946.6 1157.0 952.9 1152.9 944.3 1160.0C935.7 1167.1 915.5 1183.0 900.0 1195.5C884.5 1208.0 859.5 1228.4 851.4 1235.0"/>
<path class="t" d="M927.5 860.5C930.4 864.0 940.4 872.2 945.0 881.5C949.6 890.8 950.8 901.9 955.0 916.5C959.2 931.1 964.7 950.4 970.0 969.0C975.3 987.6 984.2 1018.2 987.0 1028.0"/>
<path class="m" d="M996.5 1057.5C996.6 1061.2 997.7 1072.9 997.3 1080.0C996.9 1087.1 996.0 1093.3 994.3 1100.0C992.6 1106.7 990.7 1113.6 987.1 1120.0C983.5 1126.4 978.9 1132.9 972.9 1138.6C966.9 1144.3 955.0 1151.7 951.4 1154.3"/>
<path class="b" d="M947.1 1160.0C939.2 1166.4 916.4 1184.7 900.0 1198.5C883.6 1212.3 857.2 1235.5 848.6 1242.9"/>
<path class="t" d="M864.3 1233.6L955.7 1166.4"/>
<path class="t" d="M865.7 1242.9L958.6 1167.0"/>
<path class="m" d="M960.0 1162.9C962.1 1161.5 968.4 1158.3 972.9 1154.3C977.4 1150.2 982.8 1144.5 987.1 1138.6C991.4 1132.6 996.0 1125.0 998.6 1118.6C1001.2 1112.2 1001.9 1107.3 1002.9 1100.0C1003.9 1092.7 1004.5 1082.0 1004.5 1075.0C1004.5 1068.0 1003.2 1060.8 1003.0 1058.0"/>
<path class="k" d="M860.0 1235.7L860.0 1250.0"/>
<path class="k" d="M848.6 1244.3L860.0 1250.0"/>
<path class="k" d="M926.3 858.8L939.0 875.3L948.0 876.6" style="stroke-width:1.6"/>
<path class="t" d="M823.4 846.3C827.0 845.9 837.9 844.4 845.0 843.8C852.1 843.2 862.3 842.7 865.8 842.5"/>
<path class="t" d="M874.8 842.3C878.2 842.8 888.8 844.0 895.0 845.5C901.2 847.0 907.2 849.2 912.0 851.5C916.8 853.8 922.0 857.8 924.0 859.0"/>
<path class="t" d="M948.8 911.2L954.0 911.2"/>
<path class="t" d="M957.0 911.2L963.8 911.2"/>
<path class="t" d="M985.0 1032.5L991.0 1032.5"/>
<path class="t" d="M994.0 1032.5L1000.0 1032.5"/>
<path class="m" d="M995.0 1053.0C995.2 1052.3 995.7 1049.9 996.5 1049.0C997.3 1048.1 998.9 1047.0 1000.0 1047.5C1001.1 1048.0 1002.2 1049.6 1003.0 1052.0C1003.8 1054.4 1004.2 1060.3 1004.5 1062.0"/>
</g>
<g id="marks">
<text class="sm" x="761.8" y="978" font-size="11.3" text-anchor="middle" stroke="#000" stroke-width="0.4" textLength="21" lengthAdjust="spacingAndGlyphs">Max</text>
<g transform="rotate(-4 757.7 1006.7)">
<rect x="740.6" y="996.2" width="34.2" height="21.0" rx="9" ry="10.5" fill="none" stroke="#fff" stroke-width="5.5"/>
<rect x="740.6" y="996.2" width="34.2" height="21.0" rx="9" ry="10.5" fill="none" stroke="#000" stroke-width="1.7"/>
<path d="M740.1 1007.3h-6M775.3 1006.1h6" stroke="#000" stroke-width="3.4" stroke-linecap="round" fill="none"/>
<path d="M776.3 1006.1h4" stroke="#fff" stroke-width="1.1" stroke-linecap="round" fill="none"/>
<text class="sm" x="757.7" y="1010.7" font-size="11" text-anchor="middle" stroke="#000" stroke-width="0.5">1000</text>
</g>
<g transform="rotate(-4 749.3 1061.1)">
<rect x="731.0" y="1050.8" width="36.6" height="20.6" rx="9" ry="10.3" fill="none" stroke="#fff" stroke-width="5.5"/>
<rect x="731.0" y="1050.8" width="36.6" height="20.6" rx="9" ry="10.3" fill="none" stroke="#000" stroke-width="1.7"/>
<path d="M730.5 1061.7h-6M768.1 1060.5h6" stroke="#000" stroke-width="3.4" stroke-linecap="round" fill="none"/>
<path d="M769.1 1060.5h4" stroke="#fff" stroke-width="1.1" stroke-linecap="round" fill="none"/>
<text class="sm" x="749.3" y="1065.3" font-size="11.8" text-anchor="middle" stroke="#000" stroke-width="0.5">750</text>
</g>
<g transform="rotate(-4 740.3 1118.9)">
<rect x="721.8" y="1108.7" width="37.0" height="20.4" rx="9" ry="10.2" fill="none" stroke="#fff" stroke-width="5.5"/>
<rect x="721.8" y="1108.7" width="37.0" height="20.4" rx="9" ry="10.2" fill="none" stroke="#000" stroke-width="1.7"/>
<path d="M721.3 1119.5h-6M759.3 1118.3h6" stroke="#000" stroke-width="3.4" stroke-linecap="round" fill="none"/>
<path d="M760.3 1118.3h4" stroke="#fff" stroke-width="1.1" stroke-linecap="round" fill="none"/>
<text class="sm" x="740.3" y="1123.1" font-size="11.8" text-anchor="middle" stroke="#000" stroke-width="0.5">500</text>
</g>
<g transform="rotate(-4 730.1 1178.1)">
<rect x="711.6" y="1167.7" width="37.0" height="20.8" rx="9" ry="10.4" fill="none" stroke="#fff" stroke-width="5.5"/>
<rect x="711.6" y="1167.7" width="37.0" height="20.8" rx="9" ry="10.4" fill="none" stroke="#000" stroke-width="1.7"/>
<path d="M711.1 1178.7h-6M749.1 1177.5h6" stroke="#000" stroke-width="3.4" stroke-linecap="round" fill="none"/>
<path d="M750.1 1177.5h4" stroke="#fff" stroke-width="1.1" stroke-linecap="round" fill="none"/>
<text class="sm" x="730.1" y="1182.3" font-size="11.8" text-anchor="middle" stroke="#000" stroke-width="0.5">250</text>
</g>
<g transform="rotate(-4 714.3 1216.8)"><rect x="692.5" y="1204" width="43.6" height="25.6" rx="12.8" fill="none" stroke="#fff" stroke-width="5"/><rect x="692.5" y="1204" width="43.6" height="25.6" rx="12.8" fill="none" stroke="#000" stroke-width="2.6"/><rect x="695.3" y="1206.8" width="38" height="20" rx="10" fill="none" stroke="#000" stroke-width="0.8"/><text class="sm" x="714.3" y="1221" font-size="11.5" text-anchor="middle" stroke="#000" stroke-width="0.5">ml</text></g>
<path class="k" d="M753.4 1129.3L746.4 1168.5"/>
<path class="k" d="M712.7 1186.5L707.3 1204.0"/>
</g>
</svg>
</body></html>
